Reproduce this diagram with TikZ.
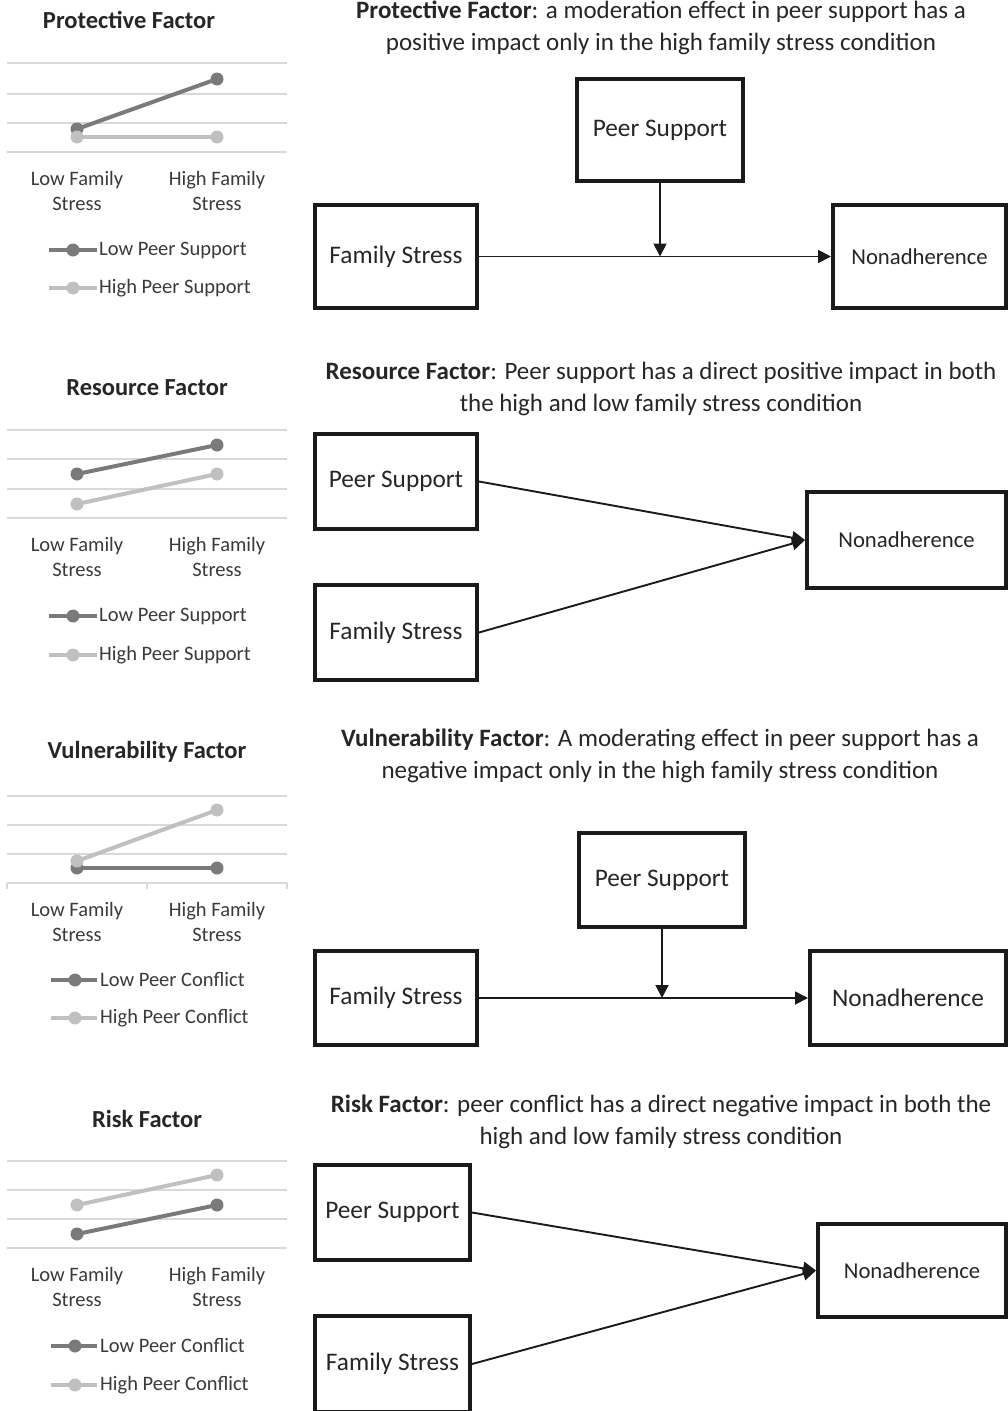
\documentclass[tikz,border=0pt]{standalone}
\usepackage{fontspec}
\setmainfont{Carlito}
\usetikzlibrary{arrows.meta,calc}

\definecolor{seriesdark}{HTML}{7A7A7A}
\definecolor{serieslight}{HTML}{C0C0C0}
\definecolor{gridgray}{HTML}{D9D9D9}
\definecolor{labeltext}{HTML}{3A3A3A}
\definecolor{boxtext}{HTML}{262626}
\definecolor{boxline}{HTML}{1A1A1A}

\tikzset{
  gridline/.style={draw=gridgray, line width=1.2pt},
  darkline/.style={draw=seriesdark, line width=4pt},
  lightline/.style={draw=serieslight, line width=4pt},
  charttitle/.style={font=\bfseries\fontsize{24.5}{28}\selectfont, text=boxtext},
  axislabel/.style={font=\fontsize{20.5}{25}\selectfont, text=labeltext, align=center},
  legendtext/.style={font=\fontsize{20.5}{24}\selectfont, text=labeltext, anchor=west, inner sep=1pt},
  caption/.style={font=\fontsize{25}{32}\selectfont, text=boxtext, align=center},
  modelbox/.style={draw=boxline, line width=4pt, inner sep=0pt, text=boxtext,
                   font=\fontsize{25.3}{29}\selectfont},
  smalllabel/.style={font=\fontsize{22.7}{26}\selectfont},
  path arrow/.style={draw=boxline, line width=1.9pt, -{Triangle[length=13pt,width=13pt]}},
}

\begin{document}
\begin{tikzpicture}[x=1pt,y=-1pt]
\useasboundingbox (0,0) rectangle (1008,1411);
\clip (0,0) rectangle (1008,1411);

% ---------------- Charts on the left ----------------
% Protective factor
\node[charttitle] (t1) at (129,20) {Protective Factor};
\foreach \gy in {63,94,123,152} \draw[gridline] (7,\gy) -- (287,\gy);
\draw[darkline] (77,129) -- (217,79);
\fill[seriesdark] (77,129) circle (6.5pt) (217,79) circle (6.5pt);
\draw[lightline] (77,137) -- (217,137);
\fill[serieslight] (77,137) circle (6.5pt) (217,137) circle (6.5pt);
\node[axislabel] (x1a) at (77,191) {Low Family\\Stress};
\node[axislabel] (x1b) at (217,191) {High Family\\Stress};
\draw[darkline] (49,250) -- (97,250);
\fill[seriesdark] (73,250) circle (6.5pt);
\node[legendtext] (l1a) at (98,250) {Low Peer Support};
\draw[lightline] (49,288) -- (97,288);
\fill[serieslight] (73,288) circle (6.5pt);
\node[legendtext] (l1b) at (98,288) {High Peer Support};

% Resource factor
\node[charttitle] (t2) at (147,388) {Resource Factor};
\foreach \gy in {430,459,489,518} \draw[gridline] (7,\gy) -- (287,\gy);
\draw[darkline] (77,474) -- (217,445);
\fill[seriesdark] (77,474) circle (6.5pt) (217,445) circle (6.5pt);
\draw[lightline] (77,504) -- (217,474);
\fill[serieslight] (77,504) circle (6.5pt) (217,474) circle (6.5pt);
\node[axislabel] (x2a) at (77,557) {Low Family\\Stress};
\node[axislabel] (x2b) at (217,557) {High Family\\Stress};
\draw[darkline] (49,616) -- (97,616);
\fill[seriesdark] (73,616) circle (6.5pt);
\node[legendtext] (l2a) at (98,616) {Low Peer Support};
\draw[lightline] (49,655) -- (97,655);
\fill[serieslight] (73,655) circle (6.5pt);
\node[legendtext] (l2b) at (98,655) {High Peer Support};

% Vulnerability factor
\node[charttitle] (t3) at (147,752) {Vulnerability Factor};
\foreach \gy in {796,825,854} \draw[gridline] (7,\gy) -- (287,\gy);
\draw[gridline] (7,883) -- (287,883);
\foreach \gx in {7,147,287} \draw[gridline] (\gx,883) -- (\gx,889);
\draw[darkline] (77,868) -- (217,868);
\fill[seriesdark] (77,868) circle (6.5pt) (217,868) circle (6.5pt);
\draw[lightline] (77,861) -- (217,810);
\fill[serieslight] (77,861) circle (6.5pt) (217,810) circle (6.5pt);
\node[axislabel] (x3a) at (77,922) {Low Family\\Stress};
\node[axislabel] (x3b) at (217,922) {High Family\\Stress};
\draw[darkline] (51,980) -- (97,980);
\fill[seriesdark] (75,980) circle (6.5pt);
\node[legendtext] (l3a) at (99,980) {Low Peer Conflict};
\draw[lightline] (51,1018) -- (97,1018);
\fill[serieslight] (75,1018) circle (6.5pt);
\node[legendtext] (l3b) at (99,1018) {High Peer Conflict};

% Risk factor
\node[charttitle] (t4) at (147,1119) {Risk Factor};
\foreach \gy in {1161,1190,1219,1248} \draw[gridline] (7,\gy) -- (287,\gy);
\draw[darkline] (77,1234) -- (217,1205);
\fill[seriesdark] (77,1234) circle (6.5pt) (217,1205) circle (6.5pt);
\draw[lightline] (77,1205) -- (217,1175);
\fill[serieslight] (77,1205) circle (6.5pt) (217,1175) circle (6.5pt);
\node[axislabel] (x4a) at (77,1287) {Low Family\\Stress};
\node[axislabel] (x4b) at (217,1287) {High Family\\Stress};
\draw[darkline] (51,1346) -- (97,1346);
\fill[seriesdark] (75,1346) circle (6.5pt);
\node[legendtext] (l4a) at (99,1346) {Low Peer Conflict};
\draw[lightline] (51,1385) -- (97,1385);
\fill[serieslight] (75,1385) circle (6.5pt);
\node[legendtext] (l4b) at (99,1385) {High Peer Conflict};

% ---------------- Path models on the right ----------------
% Protective factor: moderation
\node[caption] (c1) at (661,28) {\textbf{Protective Factor}: a moderation effect in peer support has a\\positive impact only in the high family stress condition};
\node[modelbox, minimum width=166pt, minimum height=102pt] (PS1) at (660,130) {Peer Support};
\node[modelbox, minimum width=162pt, minimum height=103pt] (FS1) at (396,256.5) {Family Stress};
\node[modelbox, smalllabel, minimum width=173pt, minimum height=103pt] (NA1) at (919.5,256.5) {Nonadherence};
\draw[path arrow] (FS1.east) -- (NA1.west);
\coordinate (m1) at (PS1.south |- FS1.east);
\draw[path arrow] (PS1.south) -- (m1);

% Resource factor: direct effects
\node[caption] (c2) at (661,389) {\textbf{Resource Factor}: Peer support has a direct positive impact in both\\the high and low family stress condition};
\node[modelbox, minimum width=162pt, minimum height=95pt] (PS2) at (396,481.5) {Peer Support};
\node[modelbox, minimum width=162pt, minimum height=95pt] (FS2) at (396,632.5) {Family Stress};
\node[modelbox, smalllabel, minimum width=199pt, minimum height=96pt] (NA2) at (906.5,540) {Nonadherence};
\draw[path arrow] (PS2.east) -- (NA2.west);
\draw[path arrow] (FS2.east) -- (NA2.west);

% Vulnerability factor: moderation
\node[caption] (c3) at (660,755.5) {\textbf{Vulnerability Factor}: A moderating effect in peer support has a\\negative impact only in the high family stress condition};
\node[modelbox, minimum width=166pt, minimum height=94pt] (PS3) at (662,880) {Peer Support};
\node[modelbox, minimum width=162pt, minimum height=94pt] (FS3) at (396,998) {Family Stress};
\node[modelbox, minimum width=196pt, minimum height=94pt] (NA3) at (908,998) {Nonadherence};
\draw[path arrow] (FS3.east) -- (NA3.west);
\coordinate (m3) at (PS3.south |- FS3.east);
\draw[path arrow] (PS3.south) -- (m3);

% Risk factor: direct effects
\node[caption] (c4) at (661,1121.5) {\textbf{Risk Factor}: peer conflict has a direct negative impact in both the\\high and low family stress condition};
\node[modelbox, minimum width=155pt, minimum height=95pt] (PS4) at (392.5,1212.5) {Peer Support};
\node[modelbox, minimum width=155pt, minimum height=96pt] (FS4) at (392.5,1364) {Family Stress};
\node[modelbox, smalllabel, minimum width=188pt, minimum height=93pt] (NA4) at (912,1270.5) {Nonadherence};
\draw[path arrow] (PS4.east) -- (NA4.west);
\draw[path arrow] (FS4.east) -- (NA4.west);

\end{tikzpicture}
\end{document}
